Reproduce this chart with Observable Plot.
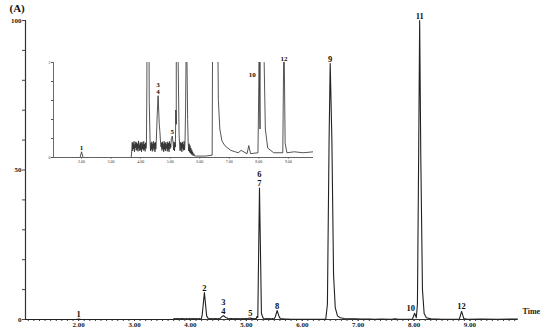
<!DOCTYPE html>
<html>
<head>
<meta charset="utf-8">
<script src="https://cdn.jsdelivr.net/npm/d3@7"></script>
<script src="https://cdn.jsdelivr.net/npm/@observablehq/plot@0.6"></script>
<style>
  html, body { margin: 0; padding: 0; background: #fff; }
  #wrap { position: relative; width: 550px; height: 333px; overflow: hidden; }
  #main, #inset { position: absolute; }
  #main { left: 0; top: 0; }
  #inset { left: 45px; top: 50px; }
  svg { background: transparent !important; }
</style>
</head>
<body>
<div id="wrap"><div id="main"></div><div id="inset"></div></div>
<script>
// Chromatogram trace (retention time in min, relative intensity in %)
const traceTime = [
  1.05, 1.95, 2.00, 2.05, 3.68,
  3.700, 3.715, 3.730, 3.745, 3.760, 3.775, 3.790, 3.805, 3.820, 3.835, 3.850, 3.865, 3.880, 3.895, 3.910, 3.925, 3.940,
  3.955, 3.970, 3.985, 4.000, 4.015, 4.030, 4.045, 4.060, 4.075, 4.090, 4.105, 4.120, 4.135, 4.150, 4.165, 4.180, 4.195,
  4.21, 4.25, 4.29, 4.32,
  4.335, 4.350, 4.365, 4.380, 4.395, 4.410, 4.425, 4.440, 4.455, 4.470, 4.485, 4.500, 4.515, 4.530,
  4.56, 4.59, 4.61, 4.63, 4.65, 4.67, 4.69,
  4.705, 4.720, 4.735, 4.750, 4.765, 4.780, 4.795, 4.810, 4.825, 4.840, 4.855, 4.870, 4.885, 4.900, 4.915, 4.930,
  4.945, 4.960, 4.975, 4.990, 5.005, 5.020,
  5.04, 5.07, 5.10, 5.115, 5.130, 5.145, 5.160, 5.175,
  5.19, 5.205, 5.235, 5.27, 5.30, 5.32,
  5.335, 5.350, 5.365, 5.380, 5.395, 5.410, 5.425, 5.440, 5.455, 5.470, 5.485, 5.500,
  5.52, 5.55, 5.59, 5.61,
  5.625, 5.640, 5.655, 5.670, 5.685, 5.700, 5.715, 5.730, 5.745, 5.760, 5.780, 5.800, 5.830, 5.900, 6.200, 6.420,
  6.45, 6.48, 6.50, 6.53, 6.56, 6.59, 6.63, 6.68, 6.75, 6.85, 6.95, 7.05, 7.20,
  7.30, 7.40, 7.60, 7.66, 7.72, 7.97,
  8.01, 8.04,
  8.06, 8.08, 8.10, 8.12, 8.15, 8.18, 8.22, 8.30, 8.50,
  8.81, 8.85, 8.89, 8.95, 9.20, 9.50, 9.85
];
const traceSignal = [
  0, 0, 0.12, 0, 0,
  0.16, 0.32, 0.14, 0.30, 0.18, 0.34, 0.12, 0.28, 0.20, 0.33, 0.15, 0.31, 0.17, 0.29, 0.13, 0.35, 0.19,
  0.27, 0.14, 0.32, 0.16, 0.30, 0.12, 0.33, 0.18, 0.29, 0.15, 0.34, 0.17, 0.28, 0.13, 0.31, 0.19, 0.26,
  1.5, 9, 1.2, 0.3,
  0.14, 0.31, 0.17, 0.33, 0.13, 0.29, 0.19, 0.34, 0.15, 0.30, 0.12, 0.32, 0.18, 0.36,
  0.9, 1.3, 1.0, 0.7, 0.55, 0.35, 0.22,
  0.31, 0.15, 0.33, 0.18, 0.29, 0.12, 0.34, 0.17, 0.30, 0.14, 0.32, 0.19, 0.28, 0.13, 0.33, 0.16,
  0.30, 0.12, 0.34, 0.18, 0.29, 0.21,
  0.40, 0.45, 0.30, 0.16, 0.33, 0.14, 0.31, 0.22,
  1.0, 0.7, 44, 2, 0.5, 0.25,
  0.14, 0.32, 0.17, 0.30, 0.12, 0.33, 0.19, 0.28, 0.15, 0.34, 0.16, 0.27,
  1.0, 3, 0.8, 0.3,
  0.14, 0.29, 0.11, 0.25, 0.09, 0.20, 0.07, 0.16, 0.05, 0.12, 0.04, 0.08, 0.03, 0.03, 0.03, 0.05,
  5, 60, 85.6, 60, 15, 4, 1.2, 0.6, 0.35, 0.25, 0.2, 0.15, 0.12,
  0.10, 0.15, 0.08, 0.25, 0.08, 0.1,
  2.1, 0.6,
  5, 50, 100, 55, 10, 2, 0.6, 0.2, 0.1,
  0.1, 2.7, 0.3, 0.1, 0.12, 0.1, 0.12
];

// Peak annotations
const peakNames   = ["1", "2", "3\n4", "5", "6\n7", "8", "9", "10", "11", "12"];
const peakTimes   = [2.00, 4.25, 4.59, 5.07, 5.235, 5.55, 6.50, 8.01, 8.10, 8.85];
const peakHeights = [0.12, 9, 1.3, 0.45, 44, 3, 85.6, 2.1, 100, 2.7];

// Labels shown in the zoomed inset
const insetNames = ["1", "3\n4", "5", "10", "12"];

// Axes
const xDomain = [1.05, 9.85];
const xTickLabels = [2, 3, 4, 5, 6, 7, 8, 9];
const yTickValues = [0, 10, 20, 30, 40, 50, 60, 70, 80, 90, 100];
const yTickLabels = [0, 50, 100];
const insetYMax = 2.0;

const trace = traceTime.map((t, i) => ({t, v: traceSignal[i]}));
const peaks = peakNames.map((n, i) => ({name: n, t: peakTimes[i], h: peakHeights[i]}));
const minorTicks = d3.range(Math.ceil(xDomain[0] * 10), Math.floor(xDomain[1] * 10) + 1).map(d => d / 10);

const serif = "'Liberation Serif', 'DejaVu Serif', serif";
const labelStyle = {lineAnchor: "bottom", fontWeight: "bold", fill: "#111"};

const main = Plot.plot({
  width: 550, height: 333,
  marginLeft: 25, marginRight: 33, marginTop: 20, marginBottom: 14,
  x: {domain: xDomain, label: null},
  y: {domain: [0, 100], label: null},
  style: {fontFamily: serif, color: "#222", background: "transparent"},
  marks: [
    Plot.ruleX([xDomain[0]], {stroke: "#333", strokeWidth: 1.2}),
    Plot.ruleY([0], {stroke: "#333", strokeWidth: 1}),
    Plot.axisY({ticks: yTickValues, tickSize: 3, tickPadding: 1, fontSize: 7, fontWeight: "bold", label: null,
      tickFormat: d => yTickLabels.includes(d) ? String(d) : "", stroke: "#444"}),
    Plot.axisX({ticks: minorTicks, tickSize: 2, tickFormat: () => "", stroke: "#444", label: null}),
    Plot.axisX({ticks: xTickLabels, tickSize: 2, tickPadding: 1, fontSize: 7, fontWeight: "bold", label: null,
      tickFormat: d3.format(".2f"), stroke: "#444"}),
    Plot.line(trace, {x: "t", y: "v", stroke: "#222", strokeWidth: 1.1}),
    Plot.text(peaks.filter(p => p.name !== "10"), {x: "t", y: "h", text: "name", dy: -2,
      lineHeight: 1.0, fontSize: 8.5, ...labelStyle}),
    Plot.text(peaks.filter(p => p.name === "10"), {x: "t", y: "h", text: "name", dy: -2, dx: -4,
      fontSize: 8.5, ...labelStyle}),
    Plot.text(["(A)"], {frameAnchor: "top-left", dx: -16, dy: -16, textAnchor: "start",
      fontSize: 11, fontWeight: "bold", fill: "#111"}),
    Plot.text(["Time"], {frameAnchor: "bottom-right", dx: 5, dy: -6, textAnchor: "start",
      fontSize: 8, fontWeight: "bold", fill: "#222"})
  ]
});
document.getElementById("main").appendChild(main);

const insetPeaks = peaks.filter(p => insetNames.includes(p.name))
  .map(p => ({...p, hy: Math.min(p.h, insetYMax)}));

const inset = Plot.plot({
  width: 275, height: 120,
  marginLeft: 8, marginRight: 7, marginTop: 12, marginBottom: 13,
  x: {domain: xDomain, label: null},
  y: {domain: [0, insetYMax], label: null},
  style: {fontFamily: serif, color: "#333", background: "transparent"},
  marks: [
    Plot.ruleX([xDomain[0]], {stroke: "#444", strokeWidth: 0.8}),
    Plot.ruleY([0], {stroke: "#444", strokeWidth: 0.8}),
    Plot.axisY({ticks: d3.range(0, insetYMax + 0.01, 0.4), tickSize: 2, tickPadding: 1, fontSize: 4, label: null,
      tickFormat: d => (d === 0 || Math.abs(d - insetYMax) < 1e-6) ? String(Math.round(d)) : "", stroke: "#555"}),
    Plot.axisX({ticks: minorTicks, tickSize: 1, tickFormat: () => "", stroke: "#555", label: null}),
    Plot.axisX({ticks: xTickLabels, tickSize: 1.5, tickPadding: 1, fontSize: 4, label: null,
      tickFormat: d3.format(".2f"), stroke: "#555"}),
    Plot.line(trace, {x: "t", y: "v", stroke: "#2a2a2a", strokeWidth: 0.8, clip: true}),
    Plot.text(insetPeaks.filter(p => p.name !== "10"), {x: "t", y: "hy", text: "name", dy: -2,
      lineHeight: 1.0, fontSize: 7, ...labelStyle}),
    Plot.text(insetPeaks.filter(p => p.name === "10"), {x: "t", y: "hy", text: "name", dy: 14, dx: -7,
      fontSize: 7, ...labelStyle})
  ]
});
document.getElementById("inset").appendChild(inset);
</script>
</body>
</html>
